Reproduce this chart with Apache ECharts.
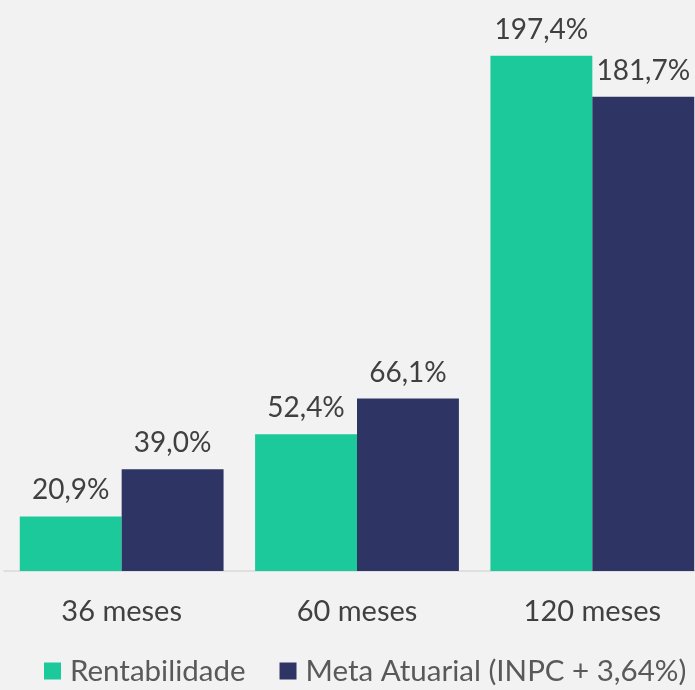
<!DOCTYPE html>
<html><head><meta charset="utf-8">
<script src="https://cdn.jsdelivr.net/npm/echarts@6/dist/echarts.min.js"></script>
<style>html,body{margin:0;padding:0;background:#f2f2f2;overflow:hidden;width:695px;height:690px;}#c{width:712px;height:690px;}</style>
</head><body><div id="c"></div>
<script>
const categories = ['36 meses', '60 meses', '120 meses'];
const rentabilidade = [20.9, 52.4, 197.4];
const metaAtuarial = [39.0, 66.1, 181.7];
const seriesNames = ['Rentabilidade', 'Meta Atuarial (INPC + 3,64%)'];

const fmt = p => p.value.toFixed(1).replace('.', ',') + '%';
const font = 'Lato, "Open Sans", sans-serif';
const chart = echarts.init(document.getElementById('c'));
chart.setOption({
  backgroundColor: '#f2f2f2',
  animation: false,
  textStyle: { fontFamily: font },
  grid: { left: 4, right: 2, top: 49, bottom: 119, containLabel: false },
  legend: {
    bottom: 4, left: 44, width: 690, orient: 'horizontal', padding: 0,
    itemWidth: 17, itemHeight: 17, itemGap: 34, icon: 'rect',
    textStyle: { fontSize: 29.5, color: '#595959', fontFamily: font, padding: [0, 0, 0, 4] },
    data: seriesNames
  },
  xAxis: {
    type: 'category', data: categories,
    axisLine: { lineStyle: { color: '#d9d9d9', width: 1.5 } },
    axisTick: { show: false },
    axisLabel: { fontSize: 29, color: '#404040', margin: 26, fontFamily: font }
  },
  yAxis: { type: 'value', min: 0, max: 200, show: false, splitLine: { show: false } },
  series: [
    { name: seriesNames[0], type: 'bar', data: rentabilidade, barGap: '0%', barCategoryGap: '13.4%',
      itemStyle: { color: '#1cc99a' },
      label: { show: true, position: 'top', distance: 12, fontSize: 28, color: '#404040', formatter: fmt, fontFamily: font } },
    { name: seriesNames[1], type: 'bar', data: metaAtuarial, barGap: '0%', barCategoryGap: '13.4%',
      itemStyle: { color: '#2e3463' },
      label: { show: true, position: 'top', distance: 12, fontSize: 28, color: '#404040', formatter: fmt, fontFamily: font } }
  ]
});
</script></body></html>
